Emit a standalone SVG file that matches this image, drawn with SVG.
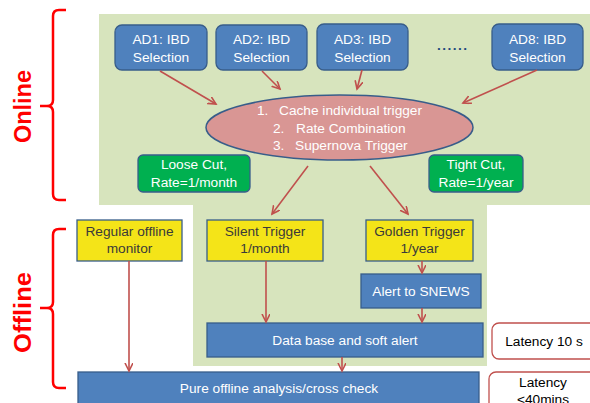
<svg xmlns="http://www.w3.org/2000/svg" width="590" height="403" viewBox="0 0 590 403">
<defs>
<marker id="ah" markerUnits="userSpaceOnUse" markerWidth="10" markerHeight="10" refX="8" refY="4" orient="auto">
<path d="M0,0 L8,4 L0,8" fill="none" stroke="#C0504D" stroke-width="1.6"/>
</marker>
<style>
text{font-family:"Liberation Sans",Arial,sans-serif;font-size:13.7px;text-anchor:middle}
text.s{text-anchor:start}
.w{fill:#FFFFFF}
.d{fill:#3A3A3A}
.k{fill:#000000}
.blue{fill:#4F81BD;stroke:#385D8A;stroke-width:1.3}
.yel{fill:#F4E418;stroke:#385D8A;stroke-width:1.3}
.grn{fill:#00B050;stroke:#385D8A;stroke-width:1.3}
.lat{fill:#FFFFFF;stroke:#C0504D;stroke-width:1.3}
.br{fill:none;stroke:#FF0000;stroke-width:2.5}
.lbl{font-size:23px;font-weight:bold;fill:#FF0000}
#connectors line{stroke:#C0504D;stroke-width:1.6;fill:none;marker-end:url(#ah)}
</style>
</defs>
<rect width="590" height="403" fill="#FFFFFF"/>
<path d="M99,14 H590 V205 H487 V366 H193 V205 H99 Z" fill="#D7E4BD"/>
<g id="braces">
<path class="br" d="M66,10 H59 Q53,10 53,16 V100 Q53,106 47,106 H40 M47,106 Q53,106 53,112 V194 Q53,200 59,200 H66"/>
<path class="br" d="M66,229 H59 Q53,229 53,235 V302 Q53,308 47,308 H40 M47,308 Q53,308 53,314 V382 Q53,388 59,388 H66"/>
</g>
<g id="label-online"><text class="lbl" transform="translate(31,106.5) rotate(-90)" textLength="73" lengthAdjust="spacingAndGlyphs">Online</text></g>
<g id="label-offline"><text class="lbl" transform="translate(31,312.5) rotate(-90)" textLength="81" lengthAdjust="spacingAndGlyphs">Offline</text></g>
<g id="ad1"><rect class="blue" x="115" y="25" width="92" height="45" rx="7"/><text class="w" x="161" y="44">AD1: IBD</text><text class="w" x="161" y="62">Selection</text></g>
<g id="ad2"><rect class="blue" x="216" y="25" width="91" height="45" rx="7"/><text class="w" x="261.5" y="44">AD2: IBD</text><text class="w" x="261.5" y="62">Selection</text></g>
<g id="ad3"><rect class="blue" x="317" y="24" width="91" height="46" rx="7"/><text class="w" x="362.5" y="44">AD3: IBD</text><text class="w" x="362.5" y="62">Selection</text></g>
<g id="dots"><text x="452" y="50" fill="#1F497D" font-weight="bold" textLength="30" lengthAdjust="spacing">......</text></g>
<g id="ad8"><rect class="blue" x="492" y="24" width="91" height="46" rx="7"/><text class="w" x="537.5" y="44">AD8: IBD</text><text class="w" x="537.5" y="62">Selection</text></g>
<g id="trigger">
<ellipse cx="339.5" cy="127.5" rx="133.5" ry="32.5" fill="#D99694" stroke="#385D8A" stroke-width="1.5"/>
<text class="w s" x="257" y="115">1.</text><text class="w s" x="279" y="115">Cache individual trigger</text>
<text class="w s" x="273" y="132.5">2.</text><text class="w s" x="296" y="132.5">Rate Combination</text>
<text class="w s" x="273" y="150">3.</text><text class="w s" x="295" y="150">Supernova Trigger</text>
</g>
<g id="loose"><rect class="grn" x="138" y="155" width="112" height="37" rx="5"/><text class="w" x="194" y="169">Loose Cut,</text><text class="w" x="194" y="187">Rate=1/month</text></g>
<g id="tight"><rect class="grn" x="429" y="155" width="94" height="37" rx="5"/><text class="w" x="476" y="169">Tight Cut,</text><text class="w" x="476" y="187">Rate=1/year</text></g>
<g id="regular"><rect class="yel" x="77" y="220" width="105" height="41"/><text class="d" x="129.5" y="236">Regular offline</text><text class="d" x="129.5" y="253">monitor</text></g>
<g id="silent"><rect class="yel" x="207" y="220" width="116" height="41"/><text class="d" x="265" y="236">Silent Trigger</text><text class="d" x="265" y="253">1/month</text></g>
<g id="golden"><rect class="yel" x="366" y="220" width="107" height="41"/><text class="d" x="419.5" y="236">Golden Trigger</text><text class="d" x="419.5" y="253">1/year</text></g>
<g id="snews"><rect class="blue" x="361" y="274" width="120" height="34"/><text class="w" x="421" y="296">Alert to SNEWS</text></g>
<g id="database"><rect class="blue" x="207" y="323" width="276" height="34"/><text class="w" x="345" y="345">Data base and soft alert</text></g>
<g id="pure"><rect class="blue" x="78" y="372" width="401" height="40"/><text class="w" x="279" y="392.5">Pure offline analysis/cross check</text></g>
<g id="lat1"><rect class="lat" x="492" y="323" width="110" height="36" rx="7"/><text class="k" x="544" y="346">Latency 10 s</text></g>
<g id="lat2"><rect class="lat" x="489" y="372" width="113" height="40" rx="7"/><text class="k" x="543" y="387">Latency</text><text class="k" x="543" y="404">&lt;40mins</text></g>
<g id="connectors">
<line x1="160" y1="71" x2="216" y2="104"/>
<line x1="262" y1="71" x2="280" y2="89"/>
<line x1="362" y1="70" x2="357" y2="89"/>
<line x1="537" y1="70" x2="463" y2="103"/>
<line x1="308" y1="166" x2="272" y2="214"/>
<line x1="370" y1="166" x2="408" y2="214"/>
<line x1="422" y1="261" x2="422" y2="273"/>
<line x1="422" y1="308" x2="422" y2="322"/>
<line x1="266" y1="261" x2="266" y2="322"/>
<line x1="129" y1="261" x2="129" y2="371"/>
<line x1="342" y1="357" x2="342" y2="371"/>
</g>
</svg>
